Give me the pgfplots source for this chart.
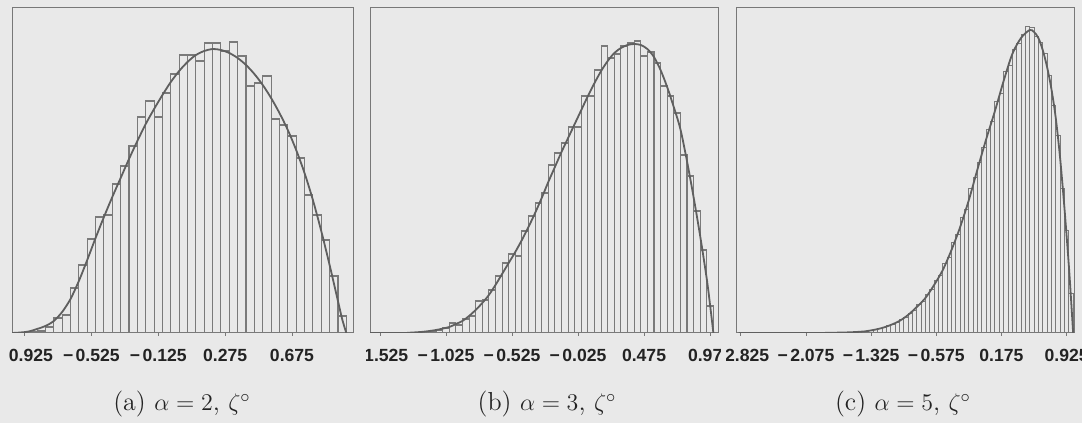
\documentclass[border=0pt]{standalone}
\usepackage{fontspec}
\usepackage{pgfplots}
\pgfplotsset{compat=1.18}
\usepackage{pgfplotstable}
\newfontfamily\tickfont{Liberation Sans}

\definecolor{paper}{RGB}{233,233,233}
\definecolor{boxcol}{RGB}{120,120,120}
\definecolor{barcol}{RGB}{122,122,122}
\definecolor{curvecol}{RGB}{95,95,95}
\definecolor{labcol}{RGB}{35,35,35}
\definecolor{capcol}{RGB}{35,35,35}

% histograms: left bin edge, bar height (last row closes the last bin)
\pgfplotstableread{
x h
-1.00 0
-0.95 0.5
-0.90 1
-0.85 2
-0.80 6
-0.75 15
-0.70 18
-0.65 45
-0.60 68
-0.55 94
-0.50 116
-0.45 118
-0.40 149
-0.35 167
-0.30 187
-0.25 216
-0.20 232
-0.15 216
-0.10 240
-0.05 259
0.00 278
0.05 278
0.10 272
0.15 290
0.20 290
0.25 282
0.30 291
0.35 277
0.40 247
0.45 250
0.50 257
0.55 214
0.60 208
0.65 197
0.70 175
0.75 138
0.80 118
0.85 93
0.90 57
0.95 17
1.00 0
}\histA

\pgfplotstableread{
x h
-1.60 0
-1.55 0
-1.50 0
-1.45 0
-1.40 0
-1.35 0
-1.30 0.3
-1.25 0.6
-1.20 1
-1.15 2
-1.10 3
-1.05 5
-1.00 10
-0.95 8
-0.90 14
-0.85 17
-0.80 32
-0.75 33
-0.70 43
-0.65 57
-0.60 70
-0.55 79
-0.50 77
-0.45 102
-0.40 117
-0.35 130
-0.30 140
-0.25 168
-0.20 180
-0.15 190
-0.10 206
-0.05 206
0.00 237
0.05 237
0.10 263
0.15 287
0.20 275
0.25 279
0.30 287
0.35 290
0.40 292
0.45 277
0.50 281
0.55 270
0.60 247
0.65 237
0.70 220
0.75 178
0.80 157
0.85 122
0.90 83
0.95 27
1.00 0
}\histB

\pgfplotstableread{
x h
-2.85 0
-2.80 0
-2.75 0
-2.70 0
-2.65 0
-2.60 0
-2.55 0
-2.50 0
-2.45 0
-2.40 0
-2.35 0
-2.30 0
-2.25 0
-2.20 0
-2.15 0
-2.10 0
-2.05 0
-2.00 0
-1.95 0
-1.90 0.1
-1.85 0.2
-1.80 0.25
-1.75 0.3
-1.70 0.4
-1.65 0.5
-1.60 0.6
-1.55 0.9
-1.50 1.1
-1.45 1.4
-1.40 1.9
-1.35 2.6
-1.30 3.5
-1.25 4.5
-1.20 5.8
-1.15 7.2
-1.10 9
-1.05 11
-1.00 14
-0.95 16
-0.90 20
-0.85 23
-0.80 29
-0.75 32
-0.70 39
-0.65 44
-0.60 53
-0.55 58
-0.50 70
-0.45 76
-0.40 91
-0.35 99
-0.30 116
-0.25 124
-0.20 145
-0.15 156
-0.10 171
-0.05 186
0.00 204
0.05 212
0.10 232
0.15 240
0.20 262
0.25 268
0.30 284
0.35 290
0.40 299
0.45 307
0.50 306
0.55 297
0.60 291
0.65 280
0.70 258
0.75 228
0.80 198
0.85 145
0.90 103
0.95 40
1.00 0
}\histC

\pgfplotsset{
  histax/.style={
    scale only axis,
    anchor=south west,
    height=162.5pt,
    ymin=0, ymax=325,
    ytick=\empty,
    axis line style={boxcol, line width=0.5pt},
    xtick pos=bottom,
    tick align=outside,
    major tick length=1.5pt,
    tick style={boxcol, line width=0.4pt},
    xticklabel style={font=\tickfont\bfseries\fontsize{8.8}{10}\selectfont,
      text=labcol, anchor=base, yshift=-13pt},
  },
  bars/.style={ybar interval, draw=barcol, fill=none, line width=0.55pt},
  fitcurve/.style={smooth, curvecol, line width=0.9pt, mark=none},
}

\begin{document}
\begin{tikzpicture}
\path[use as bounding box, fill=paper] (0,0) rectangle (541pt,211.5pt);

% (a)
\begin{scope}
\clip (3.5pt,0) rectangle (181.5pt,211.5pt);
\begin{axis}[histax, at={(6pt,45pt)}, width=170.5pt,
  xmin=-1.0, xmax=1.04,
  xtick={-0.925,-0.525,-0.125,0.275,0.675},
  xticklabels={{−\kern1.2pt0.925},{−\kern1.2pt0.525},{−\kern1.2pt0.125},0.275,0.675}]
\addplot[bars] table[x=x, y=h] {\histA};
\addplot[fitcurve] coordinates {
  (-1.0,0) (-0.95,0.5) (-0.9,1.5) (-0.85,4) (-0.8,7) (-0.75,12) (-0.7,21)
  (-0.65,34) (-0.6,52) (-0.55,73) (-0.5,95) (-0.45,116) (-0.4,136) (-0.35,155)
  (-0.3,174) (-0.25,192) (-0.2,209) (-0.15,224) (-0.1,238) (-0.05,251) (0,262)
  (0.05,271) (0.1,278) (0.15,282) (0.2,284) (0.25,283) (0.3,280) (0.35,275)
  (0.4,268) (0.45,259) (0.5,248) (0.55,235) (0.6,220) (0.65,203) (0.7,183)
  (0.75,160) (0.8,133) (0.85,102) (0.9,68) (0.95,32) (0.975,14) (1.0,0)
};
\end{axis}
\end{scope}

% (b)
\begin{scope}
\clip (183pt,0) rectangle (360pt,211.5pt);
\begin{axis}[histax, at={(185pt,45pt)}, width=174pt,
  xmin=-1.6, xmax=1.035,
  xtick={-1.525,-1.025,-0.525,-0.025,0.475,0.975},
  xticklabels={{−\kern1.2pt1.525},{−\kern1.2pt1.025},{−\kern1.2pt0.525},{−\kern1.2pt0.025},0.475,0.975}]
\addplot[bars] table[x=x, y=h] {\histB};
\addplot[fitcurve] coordinates {
  (-1.6,0) (-1.35,0) (-1.3,0.3) (-1.2,1.2) (-1.1,3) (-1.0,6) (-0.95,9)
  (-0.9,12) (-0.85,17) (-0.8,23) (-0.75,30) (-0.7,38) (-0.65,48) (-0.6,59)
  (-0.55,70) (-0.5,81) (-0.45,93) (-0.4,106) (-0.35,120) (-0.3,135) (-0.25,151)
  (-0.2,166) (-0.15,181) (-0.1,195) (-0.05,209) (0,223) (0.05,237) (0.1,250)
  (0.15,262) (0.2,272) (0.25,280) (0.3,285) (0.35,288) (0.4,289) (0.45,288)
  (0.5,284) (0.55,276) (0.6,263) (0.65,246) (0.7,226) (0.75,204) (0.8,172)
  (0.85,136) (0.9,97) (0.95,54) (0.975,28) (1.0,0)
};
\end{axis}
\end{scope}

% (c)
\begin{scope}
\clip (363.3pt,0) rectangle (541pt,211.5pt);
\begin{axis}[histax, at={(368pt,45pt)}, width=169pt,
  xmin=-2.88, xmax=1.01,
  xtick={-2.825,-2.075,-1.325,-0.575,0.175,0.925},
  xticklabels={{−\kern1.2pt2.825},{−\kern1.2pt2.075},{−\kern1.2pt1.325},{−\kern1.2pt0.575},0.175,0.925}]
\addplot[bars, line width=0.45pt] table[x=x, y=h] {\histC};
\addplot[fitcurve] coordinates {
  (-2.85,0) (-2.0,0) (-1.8,0.2) (-1.6,0.6) (-1.5,1) (-1.4,1.6) (-1.3,3)
  (-1.2,5) (-1.1,8) (-1.0,12) (-0.9,18) (-0.8,26) (-0.7,35) (-0.6,48)
  (-0.5,63) (-0.4,83) (-0.3,106) (-0.2,133) (-0.1,164) (0.0,194) (0.1,222)
  (0.2,252) (0.3,279) (0.4,295) (0.5,303) (0.55,301) (0.6,295) (0.65,283)
  (0.7,266) (0.75,244) (0.8,215) (0.85,175) (0.9,125) (0.95,68) (0.975,35) (1.0,0)
};
\end{axis}
\end{scope}

\begin{scope}[every node/.style={anchor=base, text=capcol, font=\fontsize{13}{16}\selectfont}]
\node at (91pt,6pt) {(a) $\alpha = 2$, $\zeta^\circ$};
\node at (273.5pt,6pt) {(b) $\alpha = 3$, $\zeta^\circ$};
\node at (451.5pt,6pt) {(c) $\alpha = 5$, $\zeta^\circ$};
\end{scope}
\end{tikzpicture}
\end{document}
